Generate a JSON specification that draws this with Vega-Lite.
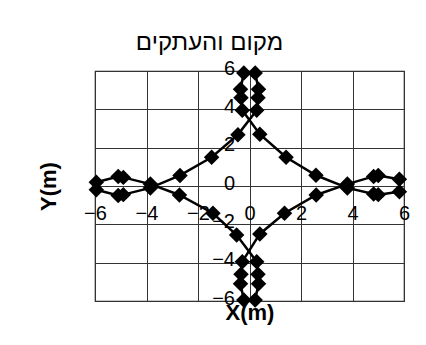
{
  "$schema": "https://vega.github.io/schema/vega-lite/v6.json",
  "autosize": {"type": "none"},
  "padding": {"left": 95, "top": 71, "right": 22, "bottom": 44},
  "width": 309,
  "height": 230,
  "background": "white",
  "title": {
    "text": "מקום והעתקים",
    "font": "Liberation Sans",
    "fontSize": 24,
    "fontWeight": "normal",
    "color": "black",
    "anchor": "middle",
    "frame": "group",
    "dx": -40,
    "offset": 3
  },
  "config": {
    "view": {"stroke": "#222", "strokeWidth": 1.2},
    "axis": {
      "labelFont": "Liberation Sans",
      "labelFontSize": 20,
      "labelColor": "black",
      "titleFont": "Liberation Sans",
      "titleFontSize": 22,
      "titleFontWeight": "bold",
      "titleColor": "black",
      "gridColor": "#333",
      "gridWidth": 1,
      "gridOpacity": 1,
      "domain": false,
      "ticks": false,
      "labelFlush": false,
      "labelOverlap": false
    }
  },
  "data": {
    "values": [
      {"path": 1, "order": 1, "x": -5.95, "y": -0.2},
      {"path": 1, "order": 2, "x": -5.1, "y": -0.5},
      {"path": 1, "order": 3, "x": -4.9, "y": -0.45},
      {"path": 1, "order": 4, "x": -3.85, "y": -0.1},
      {"path": 1, "order": 5, "x": -2.7, "y": 0.55},
      {"path": 1, "order": 6, "x": -1.47, "y": 1.5},
      {"path": 1, "order": 7, "x": -0.45, "y": 2.68},
      {"path": 1, "order": 8, "x": 0.28, "y": 3.95},
      {"path": 1, "order": 9, "x": 0.33, "y": 4.6},
      {"path": 1, "order": 10, "x": 0.35, "y": 5.05},
      {"path": 1, "order": 11, "x": 0.22, "y": 5.9},
      {"path": 2, "order": 1, "x": 5.82, "y": -0.3},
      {"path": 2, "order": 2, "x": 5.0, "y": -0.45},
      {"path": 2, "order": 3, "x": 4.82, "y": -0.42},
      {"path": 2, "order": 4, "x": 3.8, "y": -0.1},
      {"path": 2, "order": 5, "x": 2.58, "y": 0.56},
      {"path": 2, "order": 6, "x": 1.42, "y": 1.5},
      {"path": 2, "order": 7, "x": 0.4, "y": 2.7},
      {"path": 2, "order": 8, "x": -0.28, "y": 3.95},
      {"path": 2, "order": 9, "x": -0.33, "y": 4.6},
      {"path": 2, "order": 10, "x": -0.35, "y": 5.05},
      {"path": 2, "order": 11, "x": -0.22, "y": 5.9},
      {"path": 3, "order": 1, "x": -5.95, "y": 0.2},
      {"path": 3, "order": 2, "x": -5.1, "y": 0.5},
      {"path": 3, "order": 3, "x": -4.9, "y": 0.45},
      {"path": 3, "order": 4, "x": -3.85, "y": 0.1},
      {"path": 3, "order": 5, "x": -2.72, "y": -0.47},
      {"path": 3, "order": 6, "x": -1.42, "y": -1.42},
      {"path": 3, "order": 7, "x": -0.5, "y": -2.56},
      {"path": 3, "order": 8, "x": 0.28, "y": -3.95},
      {"path": 3, "order": 9, "x": 0.33, "y": -4.6},
      {"path": 3, "order": 10, "x": 0.35, "y": -5.1},
      {"path": 3, "order": 11, "x": 0.22, "y": -5.95},
      {"path": 4, "order": 1, "x": 5.82, "y": 0.35},
      {"path": 4, "order": 2, "x": 5.0, "y": 0.55},
      {"path": 4, "order": 3, "x": 4.82, "y": 0.5},
      {"path": 4, "order": 4, "x": 3.8, "y": 0.1},
      {"path": 4, "order": 5, "x": 2.59, "y": -0.47},
      {"path": 4, "order": 6, "x": 1.36, "y": -1.42},
      {"path": 4, "order": 7, "x": 0.4, "y": -2.5},
      {"path": 4, "order": 8, "x": -0.28, "y": -3.95},
      {"path": 4, "order": 9, "x": -0.33, "y": -4.6},
      {"path": 4, "order": 10, "x": -0.35, "y": -5.1},
      {"path": 4, "order": 11, "x": -0.22, "y": -5.95}
    ]
  },
  "encoding": {
    "x": {
      "field": "x",
      "type": "quantitative",
      "scale": {"domain": [-6, 6], "nice": false, "zero": false},
      "axis": {
        "values": [-6, -4, -2, 0, 2, 4, 6],
        "offset": -115,
        "labelPadding": 17,
        "title": "X(m)",
        "titleX": 154.5,
        "titleY": 133,
        "titleBaseline": "alphabetic"
      }
    },
    "y": {
      "field": "y",
      "type": "quantitative",
      "scale": {"domain": [-6, 6], "nice": false, "zero": false},
      "axis": {
        "values": [-6, -4, -2, 0, 2, 4, 6],
        "offset": -154.5,
        "labelPadding": 15,
        "labelOffset": -3,
        "title": "Y(m)",
        "titleX": -194.5,
        "titleY": 115,
        "titleAngle": -90,
        "titleBaseline": "alphabetic"
      }
    }
  },
  "layer": [
    {
      "mark": {"type": "line", "color": "black", "strokeWidth": 2.5},
      "encoding": {
        "detail": {"field": "path", "type": "nominal"},
        "order": {"field": "order", "type": "quantitative"}
      }
    },
    {
      "mark": {"type": "point", "shape": "diamond", "filled": true, "color": "black", "opacity": 1, "size": 240}
    }
  ]
}
